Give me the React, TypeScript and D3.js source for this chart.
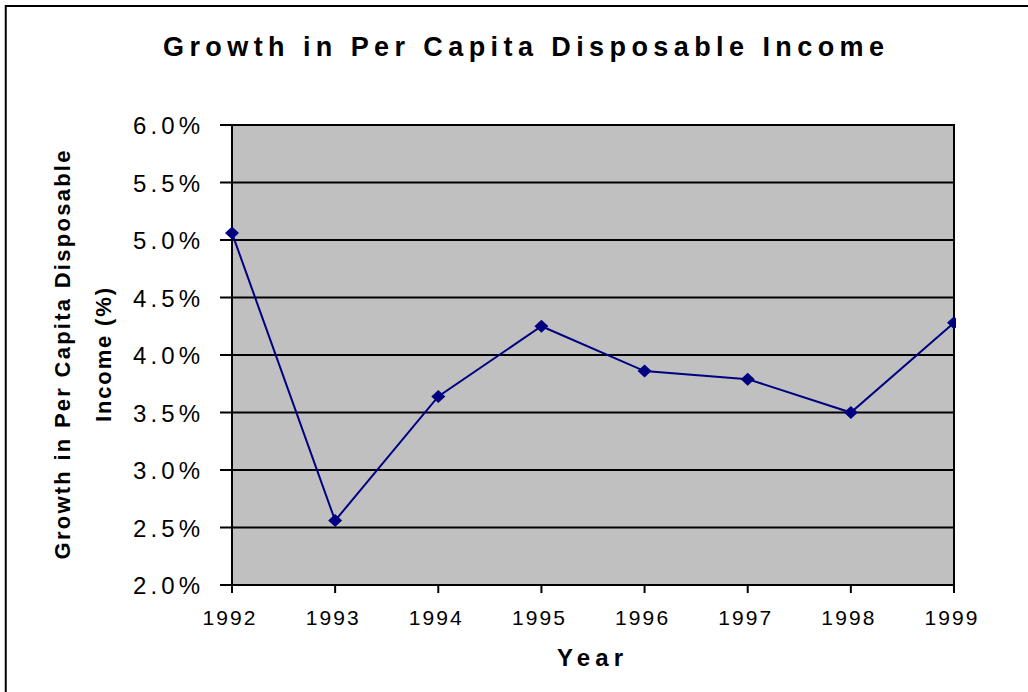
import React from "react";
import * as d3 from "d3";

const years: string[] = ["1992", "1993", "1994", "1995", "1996", "1997", "1998", "1999"];
const growth: number[] = [5.06, 2.56, 3.64, 4.25, 3.86, 3.79, 3.5, 4.28];
const yTicks: number[] = [2.0, 2.5, 3.0, 3.5, 4.0, 4.5, 5.0, 5.5, 6.0];
const title = "Growth in Per Capita Disposable Income";
const yTitle1 = "Growth in Per Capita Disposable";
const yTitle2 = "Income (%)";
const xTitle = "Year";

const W = 1028;
const H = 692;
const PL = 232, PR = 954, PT = 125, PB = 585;
const FONT = "'Liberation Sans', Arial, sans-serif";

export default function App() {
  const x = d3.scalePoint<string>().domain(years).range([PL, PR]);
  const y = d3.scaleLinear().domain([2, 6]).range([PB, PT]);
  const line = d3
    .line<number>()
    .x((_, i) => x(years[i]) as number)
    .y((d) => y(d));
  const fmt = d3.format(".1f");
  const diamond = "M0,-6.5L7,0L0,6.5L-7,0Z";

  return (
    <svg
      width={W}
      height={H}
      style={{ position: "absolute", left: 0, top: 0, background: "#fff" }}
      fontFamily={FONT}
    >
      <defs>
        <clipPath id="clipR">
          <rect x={0} y={0} width={956} height={H} />
        </clipPath>
      </defs>
      {/* outer frame */}
      <rect x={5.75} y={6} width={W + 40} height={H + 40} fill="#fff" stroke="#000" strokeWidth={2} />

      {/* title */}
      <text x={523.5} y={56} textAnchor="middle" fontSize={27} fontWeight="bold" textLength={721} lengthAdjust="spacing">
        {title}
      </text>

      {/* plot area */}
      <rect x={PL} y={PT} width={PR - PL} height={PB - PT} fill="#C0C0C0" />
      {yTicks.map((t) => (
        <line key={"g" + t} x1={PL} x2={PR} y1={y(t)} y2={y(t)} stroke="#000" strokeWidth={2} />
      ))}
      {/* y ticks and labels */}
      {yTicks.map((t) => (
        <g key={"yt" + t}>
          <line x1={220} x2={PL} y1={y(t)} y2={y(t)} stroke="#000" strokeWidth={2} />
          <text x={200} y={y(t) + 9} textAnchor="end" fontSize={24} textLength={67} lengthAdjust="spacing">
            {fmt(t) + "%"}
          </text>
        </g>
      ))}
      {/* axes lines */}
      <line x1={PL} x2={PL} y1={PT - 1} y2={PB + 1} stroke="#000" strokeWidth={2} />
      <line x1={PR} x2={PR} y1={PT - 1} y2={PB + 1} stroke="#000" strokeWidth={2} />
      <line x1={PL} x2={PR + 1} y1={PB} y2={PB} stroke="#000" strokeWidth={2} />
      {/* x ticks and labels */}
      {years.map((yr) => (
        <g key={"xt" + yr}>
          <line x1={x(yr)} x2={x(yr)} y1={PB} y2={PB + 8} stroke="#000" strokeWidth={2} />
          <text x={(x(yr) as number) - 3} y={625} textAnchor="middle" fontSize={21} textLength={53} lengthAdjust="spacing">
            {yr}
          </text>
        </g>
      ))}

      {/* series */}
      <g clipPath="url(#clipR)">
        <path d={line(growth) || ""} fill="none" stroke="#000080" strokeWidth={2} />
        {growth.map((v, i) => (
          <path key={"m" + i} d={diamond} transform={`translate(${x(years[i])},${y(v)})`} fill="#000080" />
        ))}
      </g>

      {/* axis titles */}
      <text x={590} y={666} textAnchor="middle" fontSize={24} fontWeight="bold" textLength={66} lengthAdjust="spacing">
        {xTitle}
      </text>
      <text
        transform={`translate(70,${(PT + PB) / 2}) rotate(-90)`}
        textAnchor="middle"
        fontSize={22}
        fontWeight="bold"
        textLength={409}
        lengthAdjust="spacing"
      >
        {yTitle1}
      </text>
      <text
        transform={`translate(111,${(PT + PB) / 2}) rotate(-90)`}
        textAnchor="middle"
        fontSize={22}
        fontWeight="bold"
        textLength={134}
        lengthAdjust="spacing"
      >
        {yTitle2}
      </text>
    </svg>
  );
}
